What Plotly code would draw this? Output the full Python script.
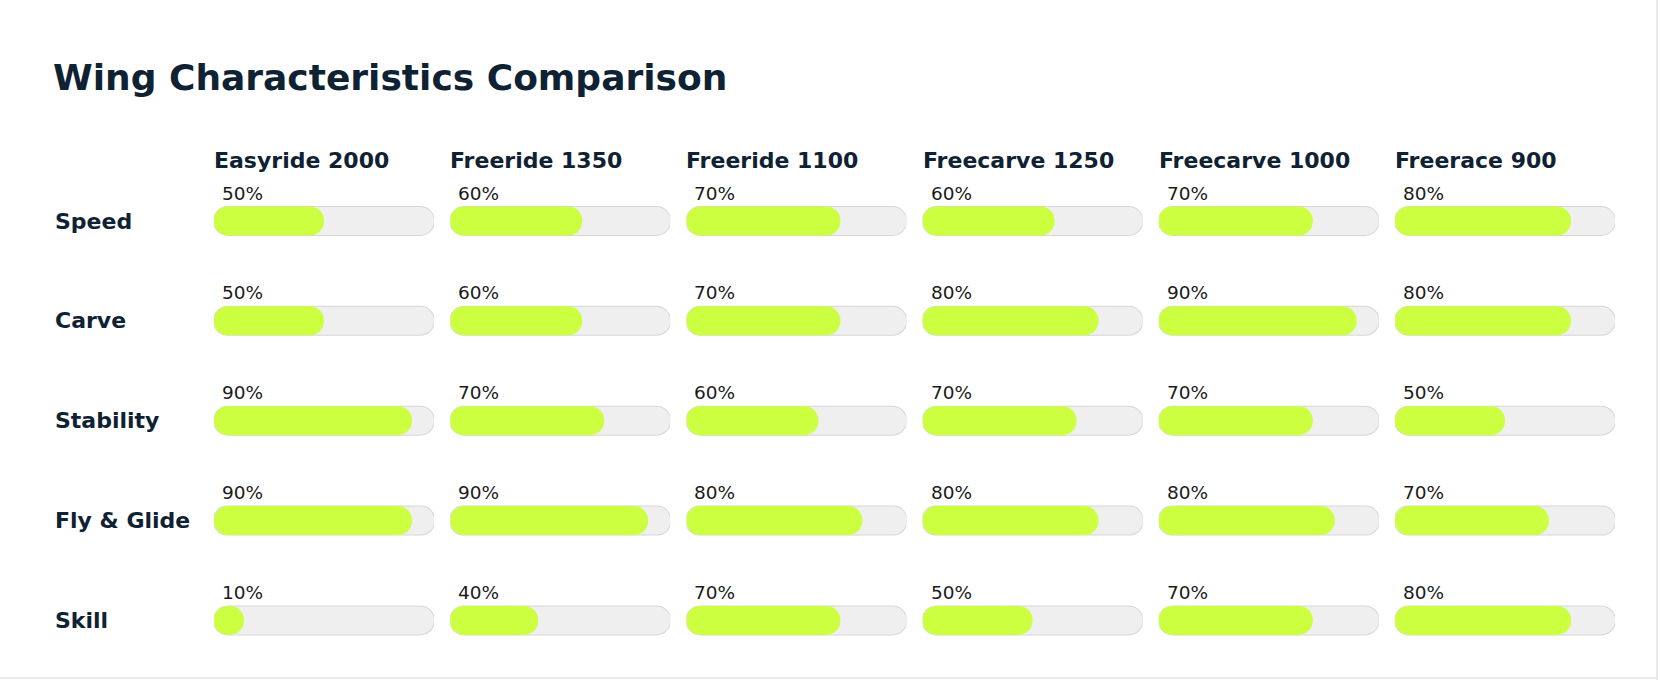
import plotly.graph_objects as go

# ---------------- data ----------------
wings = ["Easyride 2000", "Freeride 1350", "Freeride 1100",
         "Freecarve 1250", "Freecarve 1000", "Freerace 900"]
characteristics = ["Speed", "Carve", "Stability", "Fly & Glide", "Skill"]
speed = [50, 60, 70, 60, 70, 80]
carve = [50, 60, 70, 80, 90, 80]
stability = [90, 70, 60, 70, 70, 50]
fly_glide = [90, 90, 80, 80, 80, 70]
skill = [10, 40, 70, 50, 70, 80]
rows = [speed, carve, stability, fly_glide, skill]

# ---------------- layout constants ----------------
W, H = 1660, 680
COL_LEFT = 214.0
COL_STEP = 236.2
BAR_PX = 220.0
ROW0_PX = 221.0
ROW_STEP = 99.85
BAR_H = 28
FILL_H = 29
RADIUS = 14
MIN_FILL_PX = 30  # like a CSS min-width: the fill is never narrower than a circle

GREEN = "#ccff3f"
TRACK = "#efefef"
OUTLINE = "#d6d6d6"
DARK = "#0f2233"
FONT = "DejaVu Sans"

px_per_unit_x = BAR_PX / 100.0
row_idx = list(range(len(characteristics)))

fig = go.Figure()


def capsule(xname, starts, ends, width, color, radius):
    """Bars with an explicit base get all four corners rounded -> capsules."""
    fig.add_trace(go.Bar(
        x=[e - s for s, e in zip(starts, ends)], base=list(starts),
        y=row_idx, orientation="h", width=width, xaxis=xname, yaxis="y",
        marker=dict(color=color, cornerradius=radius, line=dict(width=0)),
        hoverinfo="skip", showlegend=False,
    ))


annotations = []
layout_axes = {}
pad = 1.0 / px_per_unit_x  # 1px outline in data units
min_fill = MIN_FILL_PX / px_per_unit_x
for j, wing in enumerate(wings):
    xname = "x" if j == 0 else f"x{j + 1}"
    axkey = "xaxis" if j == 0 else f"xaxis{j + 1}"
    left = COL_LEFT + j * COL_STEP
    layout_axes[axkey] = dict(
        domain=[left / W, (left + BAR_PX) / W], range=[0, 100],
        visible=False, fixedrange=True, anchor="y",
    )
    vals = [r[j] for r in rows]
    n = len(vals)
    # outline, track, fill
    capsule(xname, [-pad] * n, [100 + pad] * n, (BAR_H + 2) / ROW_STEP, OUTLINE, RADIUS + 1)
    capsule(xname, [0] * n, [100] * n, BAR_H / ROW_STEP, TRACK, RADIUS)
    capsule(xname, [0] * n, [max(v, min_fill) for v in vals], FILL_H / ROW_STEP, GREEN, RADIUS)

    # column header
    annotations.append(dict(
        text=f"<b>{wing}</b>", xref=xname, x=0, xanchor="left", xshift=-2,
        yref="paper", y=1 - 160 / H, yanchor="middle", showarrow=False,
        font=dict(family=FONT, size=22, color=DARK),
    ))
    # percentage labels
    for i, v in enumerate(vals):
        annotations.append(dict(
            text=f"{v}%", xref=xname, x=0, xanchor="left", xshift=6,
            yref="y", y=i, yanchor="middle", yshift=28, showarrow=False,
            font=dict(family=FONT, size=18.5, color="#1a1a1a"),
        ))

# row labels
for i, name in enumerate(characteristics):
    annotations.append(dict(
        text=f"<b>{name}</b>", xref="paper", x=53 / W, xanchor="left",
        yref="y", y=i, yanchor="middle", yshift=0, showarrow=False,
        font=dict(family=FONT, size=22, color=DARK),
    ))

span = H / ROW_STEP
r_top = -ROW0_PX / ROW_STEP
r_bot = r_top + span

fig.update_layout(
    width=W, height=H,
    margin=dict(l=0, r=0, t=0, b=0),
    paper_bgcolor="white", plot_bgcolor="rgba(0,0,0,0)",
    barmode="overlay",
    title=dict(
        text="<b>Wing Characteristics Comparison</b>",
        x=53 / W, xanchor="left", xref="paper",
        y=1 - 77 / H, yanchor="middle", yref="container",
        font=dict(family=FONT, size=36, color=DARK),
    ),
    yaxis=dict(domain=[0, 1], range=[r_bot, r_top], visible=False,
               fixedrange=True, anchor="x"),
    annotations=annotations,
    shapes=[
        dict(type="line", xref="paper", yref="paper", x0=1657 / W, x1=1657 / W,
             y0=0, y1=1, line=dict(color="#e2e2e2", width=1.5)),
        dict(type="line", xref="paper", yref="paper", x0=0, x1=1657 / W,
             y0=2 / H, y1=2 / H, line=dict(color="#e2e2e2", width=1.5)),
    ],
    **layout_axes,
)

fig.write_html("out.html", config={"displayModeBar": False})
